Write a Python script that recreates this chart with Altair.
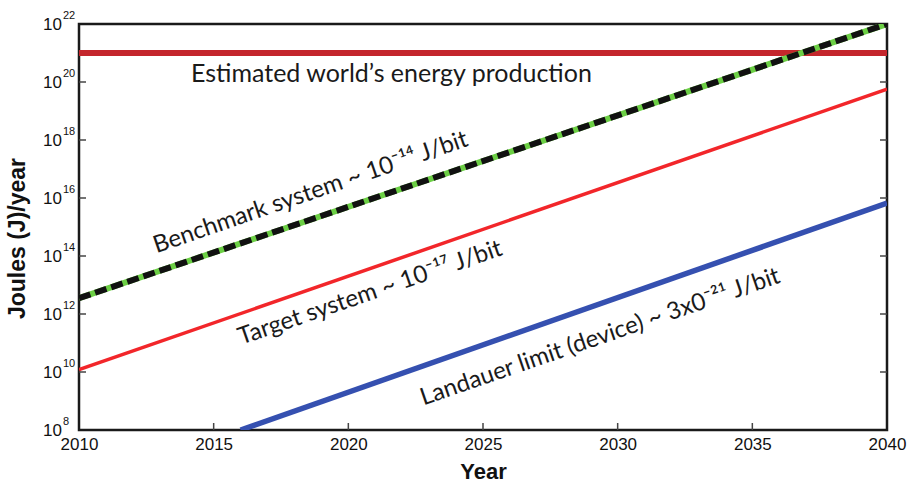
import altair as alt
import pandas as pd

# Energy curves: each series is a straight line on a log scale, so two endpoints define it
series = ["energy", "benchmark", "target", "landauer"]
year_start = [2010, 2010, 2010, 2016]
year_end = [2040, 2040, 2040, 2040]
joules_start = [1e21, 3.5e12, 1.2e10, 1e8]
joules_end = [1e21, 1e22, 5.7e19, 6.7e15]

# Annotations written along the curves
label_text = [
    "Estimated world\u2019s energy production",
    "Benchmark system ~ 10\u207b\u00b9\u2074 J/bit",
    "Target system ~ 10\u207b\u00b9\u2077 J/bit",
    "Landauer limit (device) ~ 3x0\u207b\u00b2\u00b9 J/bit",
]
label_year = [2021.6, 2018.6, 2020.81, 2029.35]
label_joules = [10 ** 20.28, 10 ** 16.18, 10 ** 12.72, 10 ** 11.20]
label_rotated = [False, True, True, True]

# Axis ticks; y tick labels are drawn as base "10" plus a raised exponent
x_ticks = [2010, 2015, 2020, 2025, 2030, 2035, 2040]
y_ticks = [1e8, 1e10, 1e12, 1e14, 1e16, 1e18, 1e20, 1e22]
y_tick_base = ["10"] * len(y_ticks)
y_tick_exponent = ["8", "10", "12", "14", "16", "18", "20", "22"]

rows = []
for s, y0, y1, j0, j1 in zip(series, year_start, year_end, joules_start, joules_end):
    rows.append({"series": s, "year": y0, "joules": j0})
    rows.append({"series": s, "year": y1, "joules": j1})
lines = pd.DataFrame(rows)

labels = pd.DataFrame({"text": label_text, "year": label_year,
                       "joules": label_joules, "rotated": label_rotated})
ytick_df = pd.DataFrame({"joules": y_ticks, "base": y_tick_base, "exp": y_tick_exponent})

W, H = 808, 406

x_scale = alt.Scale(domain=[2010, 2040], nice=False, zero=False)
y_scale = alt.Scale(type="log", domain=[1e8, 1e22], nice=False)

x_axis = alt.Axis(values=x_ticks, format="d", ticks=False, domain=False, grid=False,
                  labelFont="Liberation Sans", labelFontSize=17, labelColor="#111",
                  labelPadding=6, labelOverlap=False, labelBound=False, labelFlush=False,
                  title="Year", titleFont="Liberation Sans", titleFontSize=22,
                  titleFontWeight="bold", titleColor="#111", titlePadding=9)
y_axis = alt.Axis(values=y_ticks, labels=False, ticks=False, domain=False, grid=False,
                  title="Joules (J)/year", titleFont="Liberation Sans", titleFontSize=23,
                  titleFontWeight="bold", titleColor="#111", titleAngle=270,
                  titleX=-62, titleY=214, titleAlign="center", titleBaseline="middle")

X = alt.X("year:Q", scale=x_scale, axis=x_axis)
Y = alt.Y("joules:Q", scale=y_scale, axis=y_axis)

base = alt.Chart(lines)


def curve(name, color, width, dash=None):
    kw = dict(color=color, strokeWidth=width, clip=True, strokeCap="butt")
    if dash:
        kw["strokeDash"] = dash
    return base.transform_filter(alt.datum.series == name).mark_line(**kw).encode(x=X, y=Y)


energy = curve("energy", "#c4262c", 6)
target = curve("target", "#f2262a", 3.5)
landauer = curve("landauer", "#3550b0", 5.5)
bench_green = curve("benchmark", "#6ccf45", 6)
bench_black = curve("benchmark", "#111111", 6, dash=[12, 5])

text_flat = alt.Chart(labels).transform_filter(alt.datum.rotated == False).mark_text(
    font="Lato", fontSize=25, color="#1a1a1a", align="center", baseline="middle"
).encode(x=X, y=Y, text="text:N")
text_rot = alt.Chart(labels).transform_filter(alt.datum.rotated == True).mark_text(
    font="Lato", fontSize=24, color="#1a1a1a", align="center", baseline="middle", angle=341
).encode(x=X, y=Y, text="text:N")

# Y tick labels: "10" with a smaller raised exponent
ytick_base = alt.Chart(ytick_df).mark_text(
    font="Liberation Sans", fontSize=17, color="#111", align="left", baseline="middle", dy=1
).encode(y=Y, x=alt.value(-36), text="base:N")
ytick_exp = alt.Chart(ytick_df).mark_text(
    font="Liberation Sans", fontSize=11, color="#111", align="left", baseline="middle", dy=-8
).encode(y=Y, x=alt.value(-16), text="exp:N")

# Inward tick marks on the frame
inner_y = pd.DataFrame({"joules": y_ticks[1:-1]})
inner_x = pd.DataFrame({"year": x_ticks[1:-1]})
tick_style = dict(color="#444", strokeWidth=1.5)
left_ticks = alt.Chart(inner_y).mark_rule(**tick_style).encode(
    y=Y, x=alt.value(0), x2=alt.value(7))
right_ticks = alt.Chart(inner_y).mark_rule(**tick_style).encode(
    y=Y, x=alt.value(W - 7), x2=alt.value(W))
bottom_ticks = alt.Chart(inner_x).mark_rule(**tick_style).encode(
    x=X, y=alt.value(H - 7), y2=alt.value(H))

chart = alt.layer(
    left_ticks, right_ticks, bottom_ticks,
    energy, target, landauer, bench_green, bench_black,
    text_flat, text_rot, ytick_base, ytick_exp,
).properties(
    width=W, height=H,
    autosize=alt.AutoSizeParams(type="none"),
    padding={"left": 79, "top": 24, "right": 22, "bottom": 55},
    background="white",
).configure_view(
    stroke="#1a1a1a", strokeWidth=2.5
)

chart.save("out.html", embed_options={"renderer": "svg", "actions": False})
